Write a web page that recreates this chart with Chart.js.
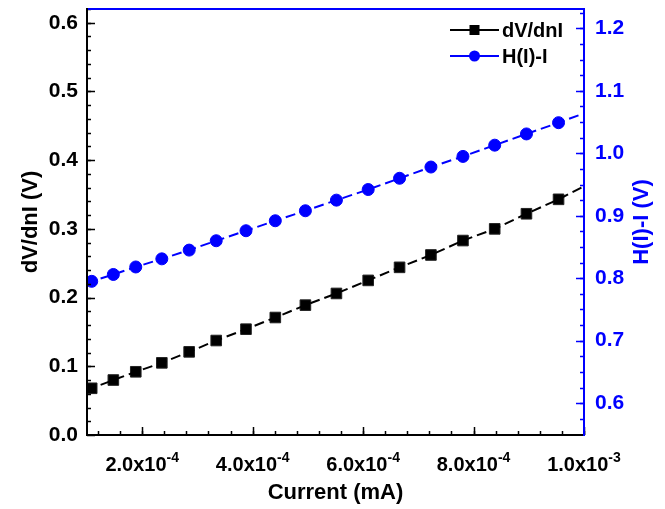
<!DOCTYPE html>
<html>
<head>
<meta charset="utf-8">
<script src="https://cdn.jsdelivr.net/npm/chart.js@4.4.0/dist/chart.umd.min.js"></script>
<style>
  html, body { margin: 0; padding: 0; background: #fff; }
</style>
</head>
<body>
<canvas id="chart" width="665" height="509"></canvas>
<script>
(function () {
    "use strict";

    // Values
    var current = [1.085e-4, 1.477e-4, 1.883e-4, 2.355e-4, 2.850e-4, 3.340e-4, 3.879e-4, 4.410e-4, 4.955e-4,
                   5.517e-4, 6.092e-4, 6.660e-4, 7.228e-4, 7.808e-4, 8.383e-4, 8.958e-4, 9.539e-4];
    var dvdnI = [0.068, 0.080, 0.092, 0.105, 0.121, 0.1375, 0.154, 0.171, 0.189,
                 0.206, 0.225, 0.244, 0.262, 0.283, 0.300, 0.322, 0.343];
    var hI = [0.795, 0.806, 0.818, 0.831, 0.845, 0.860, 0.876, 0.892, 0.908,
              0.925, 0.942, 0.960, 0.978, 0.995, 1.013, 1.031, 1.049];

    // dashed guide lines reach both plot edges
    var edgeX = [1.0e-4, 1.0e-3];
    var dvdnIEdge = [0.064, 0.362];
    var hIEdge = [0.790, 1.064];

    // Axis ticks
    var leftTicks = [0.0, 0.1, 0.2, 0.3, 0.4, 0.5, 0.6];
    var rightTicks = [0.6, 0.7, 0.8, 0.9, 1.0, 1.1, 1.2];
    var xTicks = [2e-4, 4e-4, 6e-4, 8e-4, 1e-3];
    var xTickBase = ["2.0x10", "4.0x10", "6.0x10", "8.0x10", "1.0x10"];
    var xTickExp = ["-4", "-4", "-4", "-4", "-3"];

    var FONT = "'Liberation Sans', Arial, sans-serif";
    var BLUE = "#0000ff";

    function pts(xs, ys) {
        return xs.map(function (x, i) { return { x: x, y: ys[i] }; });
    }
    function edgeLine(ys, edge) {
        return [{ x: edgeX[0], y: edge[0] }].concat(pts(current, ys), [{ x: edgeX[1], y: edge[1] }]);
    }
    function stepValues(from, to, step) {
        var out = [];
        for (var v = from; v <= to + step / 100; v += step) out.push(+v.toFixed(8));
        return out;
    }
    // keep the plot box fixed, no extra label padding
    function fixBox(w, h) {
        return function (s) {
            if (w) s.width = w;
            if (h) s.height = h;
            s.paddingTop = 0; s.paddingBottom = 0;
            s.paddingLeft = 0; s.paddingRight = 0;
        };
    }

    // Frame, inward ticks, x labels, right title and legend
    var framePlugin = {
        id: "frame",
        afterDraw: function (chart) {
            var c = chart.ctx, a = chart.chartArea;
            var sx = chart.scales.x, sy = chart.scales.y, sy1 = chart.scales.y1;
            c.save();
            c.lineCap = "butt";

            // ticks
            function vTicks(scale, vals, x0, dir, len, color) {
                c.strokeStyle = color; c.lineWidth = 1.5;
                vals.forEach(function (v) {
                    var y = Math.round(scale.getPixelForValue(v)) + 0.5;
                    c.beginPath(); c.moveTo(x0, y); c.lineTo(x0 + dir * len, y); c.stroke();
                });
            }
            vTicks(sy, stepValues(0.02, 0.62, 0.02), a.left, 1, 4, "#000");
            vTicks(sy, leftTicks, a.left, 1, 8, "#000");
            vTicks(sy1, stepValues(0.575, 1.225, 0.025), a.right, -1, 4, BLUE);
            vTicks(sy1, rightTicks, a.right, -1, 8, BLUE);

            c.strokeStyle = "#000"; c.lineWidth = 1.5;
            stepValues(1.2e-4, 1e-3, 4e-5).forEach(function (v) {
                var x = Math.round(sx.getPixelForValue(v)) + 0.5;
                c.beginPath(); c.moveTo(x, a.bottom); c.lineTo(x, a.bottom - 4); c.stroke();
            });
            xTicks.forEach(function (v) {
                var x = Math.round(sx.getPixelForValue(v)) + 0.5;
                c.beginPath(); c.moveTo(x, a.bottom); c.lineTo(x, a.bottom - 8); c.stroke();
            });

            // axis lines
            c.lineWidth = 2;
            c.strokeStyle = BLUE;
            c.beginPath(); c.moveTo(a.left, a.top); c.lineTo(a.right, a.top); c.stroke();
            c.strokeStyle = "#000";
            c.beginPath(); c.moveTo(a.left, a.top - 1); c.lineTo(a.left, a.bottom); c.lineTo(a.right, a.bottom); c.stroke();
            c.strokeStyle = BLUE;
            c.beginPath(); c.moveTo(a.right, a.top - 1); c.lineTo(a.right, a.bottom + 1); c.stroke();

            // x tick labels with exponent
            c.fillStyle = "#000";
            c.textBaseline = "alphabetic";
            xTicks.forEach(function (v, i) {
                c.font = "bold 20px " + FONT;
                var wb = c.measureText(xTickBase[i]).width;
                c.font = "bold 14px " + FONT;
                var we = c.measureText(xTickExp[i]).width;
                var x = sx.getPixelForValue(v) - (wb + we) / 2;
                c.font = "bold 20px " + FONT;
                c.textAlign = "left";
                c.fillText(xTickBase[i], x, 471);
                c.font = "bold 14px " + FONT;
                c.fillText(xTickExp[i], x + wb, 462);
            });

            // right axis title, reading bottom to top
            c.save();
            c.translate(642, (a.top + a.bottom) / 2);
            c.rotate(-Math.PI / 2);
            c.font = "bold 22px " + FONT;
            c.fillStyle = BLUE;
            c.textAlign = "center";
            c.textBaseline = "middle";
            c.fillText("H(I)-I (V)", 0, 0);
            c.restore();

            // legend
            function legendRow(y, color, kind, text) {
                c.strokeStyle = color; c.lineWidth = 2;
                c.beginPath(); c.moveTo(450, y); c.lineTo(499, y); c.stroke();
                c.fillStyle = color;
                if (kind === "rect") {
                    c.fillRect(469.5, y - 5, 10, 10);
                } else {
                    c.beginPath(); c.arc(474.5, y, 5.5, 0, Math.PI * 2); c.fill();
                }
                c.fillStyle = "#000";
                c.font = "bold 20px " + FONT;
                c.textAlign = "left";
                c.textBaseline = "middle";
                c.fillText(text, 502, y + 1);
            }
            legendRow(30, "#000", "rect", "dV/dnI");
            legendRow(56, BLUE, "circle", "H(I)-I");

            c.restore();
        }
    };

    var ctx = document.getElementById("chart").getContext("2d");
    var myChart = new Chart(ctx, {
        type: "scatter",
        data: {
            datasets: [{
                label: "dV/dnI fit",
                data: edgeLine(dvdnI, dvdnIEdge),
                showLine: true,
                borderColor: "#000",
                borderWidth: 2,
                borderDash: [10, 5],
                pointRadius: 0,
                yAxisID: "y"
            }, {
                label: "H(I)-I fit",
                data: edgeLine(hI, hIEdge),
                showLine: true,
                borderColor: BLUE,
                borderWidth: 2,
                borderDash: [10, 5],
                pointRadius: 0,
                yAxisID: "y1"
            }, {
                label: "dV/dnI",
                data: pts(current, dvdnI),
                pointStyle: "rect",
                pointRadius: 7.5,
                backgroundColor: "#000",
                borderColor: "#222",
                borderWidth: 1,
                yAxisID: "y"
            }, {
                label: "H(I)-I",
                data: pts(current, hI),
                pointStyle: "circle",
                pointRadius: 6,
                backgroundColor: BLUE,
                borderColor: BLUE,
                borderWidth: 1,
                yAxisID: "y1"
            }]
        },
        options: {
            responsive: false,
            animation: false,
            layout: { padding: { top: 9 } },
            plugins: {
                legend: { display: false },
                tooltip: { enabled: false }
            },
            scales: {
                x: {
                    type: "linear",
                    position: "bottom",
                    min: 1e-4,
                    max: 1e-3,
                    afterFit: fixBox(0, 74),
                    ticks: { display: false },
                    grid: { display: false, drawTicks: false },
                    border: { display: false },
                    title: {
                        display: true,
                        text: "Current (mA)",
                        color: "#000",
                        font: { family: FONT, size: 22, weight: "bold" },
                        padding: { top: 0, bottom: 3 }
                    }
                },
                y: {
                    position: "left",
                    min: 0,
                    max: 0.62,
                    afterFit: fixBox(87, 0),
                    afterBuildTicks: function (s) {
                        s.ticks = leftTicks.map(function (v) { return { value: v }; });
                    },
                    ticks: {
                        color: "#000",
                        padding: 9,
                        font: { family: FONT, size: 21, weight: "bold" },
                        callback: function (v) { return v.toFixed(1); }
                    },
                    grid: { display: false, drawTicks: false },
                    border: { display: false },
                    title: {
                        display: true,
                        text: "dV/dnI (V)",
                        color: "#000",
                        font: { family: FONT, size: 22, weight: "bold" },
                        padding: { top: 18, bottom: 0 }
                    }
                },
                y1: {
                    position: "right",
                    min: 0.549,
                    max: 1.231,
                    afterFit: fixBox(81, 0),
                    afterBuildTicks: function (s) {
                        s.ticks = rightTicks.map(function (v) { return { value: v }; });
                    },
                    ticks: {
                        color: BLUE,
                        padding: 11,
                        font: { family: FONT, size: 21, weight: "bold" },
                        callback: function (v) { return v.toFixed(1); }
                    },
                    grid: { display: false, drawTicks: false },
                    border: { display: false }
                }
            }
        },
        plugins: [framePlugin]
    });
})();
</script>
</body>
</html>
